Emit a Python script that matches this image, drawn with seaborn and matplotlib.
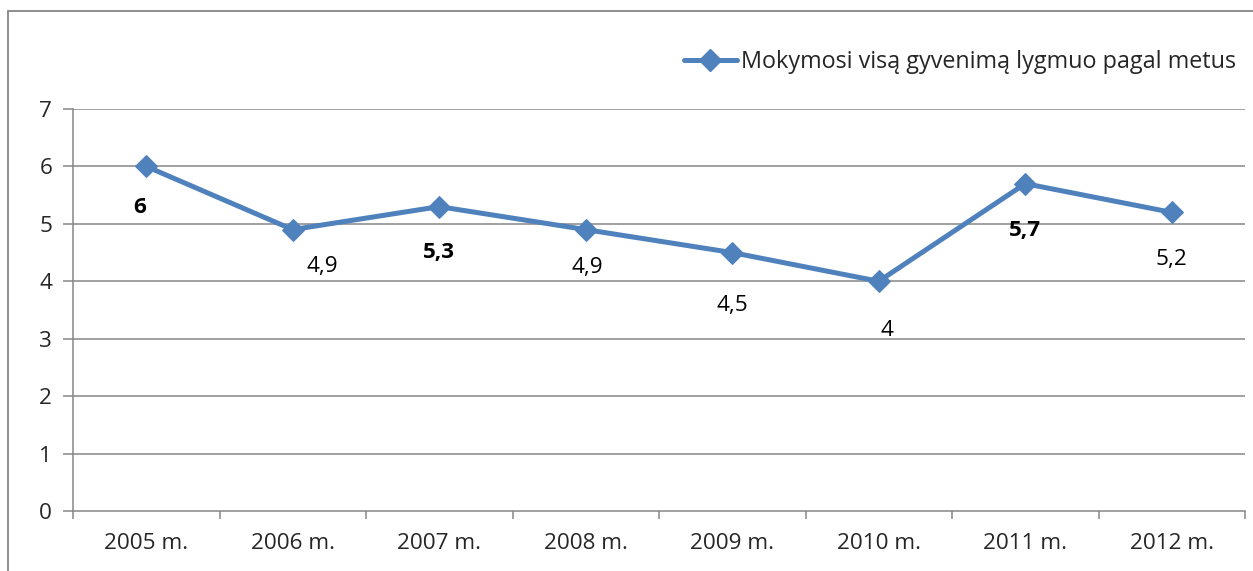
import matplotlib
matplotlib.use("Agg")
import matplotlib.pyplot as plt
import seaborn as sns
import pandas as pd
from matplotlib.patches import Rectangle
from matplotlib.lines import Line2D

years = ["2005 m.", "2006 m.", "2007 m.", "2008 m.", "2009 m.", "2010 m.", "2011 m.", "2012 m."]
values = [6, 4.9, 5.3, 4.9, 4.5, 4, 5.7, 5.2]
value_labels = ["6", "4,9", "5,3", "4,9", "4,5", "4", "5,7", "5,2"]
bold_labels = [True, False, True, False, False, False, True, False]
series_name = "Mokymosi visą gyvenimą lygmuo pagal metus"
yticks = [0, 1, 2, 3, 4, 5, 6, 7]

# label offsets in pixels (dx, dy) relative to point
label_offsets = [(-7, -41), (30, -37), (0, -46), (2, -38), (0, -53), (8, -49), (0, -47), (0, -47)]

sns.set_theme(style="white")
plt.rcParams['font.family'] = ['Open Sans', 'DejaVu Sans']

W, H = 1253, 571
fig = plt.figure(figsize=(W / 100, H / 100), dpi=100)
ax = fig.add_axes([73 / W, 1 - 511 / H, (1245 - 73) / W, (511 - 109) / H])

color = "#4F81BD"
grid_c = "#868686"
fs = 16.2
df = pd.DataFrame({"x": list(range(len(years))), "y": values})
sns.lineplot(data=df, x="x", y="y", ax=ax, color=color, linewidth=3.6,
             marker="D", markersize=11, markeredgecolor=color, legend=False)

ax.set_xlim(-0.5, len(years) - 0.5)
ax.set_ylim(0, 7)
ax.set_yticks(yticks)
ax.set_yticklabels([str(t) for t in yticks], fontsize=fs)
for t in yticks[1:]:
    ax.axhline(t, color=grid_c, linewidth=1.1, zorder=0)
ax.set_xticks(range(len(years)))
ax.set_xticklabels(years, fontsize=fs)
ax.set_xticks([i - 0.5 for i in range(len(years) + 1)], minor=True)
ax.tick_params(axis="x", which="major", length=0, pad=16)
ax.tick_params(axis="x", which="minor", length=6, color=grid_c, width=1.1, direction="out", bottom=True)
ax.tick_params(axis="y", length=7, color=grid_c, width=1.1, direction="out", left=True, pad=8)
ax.set_xlabel("")
ax.set_ylabel("")
for s in ["top", "right"]:
    ax.spines[s].set_visible(False)
for s in ["left", "bottom"]:
    ax.spines[s].set_color(grid_c)
    ax.spines[s].set_linewidth(1.1)

for i, (v, lab, b) in enumerate(zip(values, value_labels, bold_labels)):
    dx, dy = label_offsets[i]
    ax.annotate(lab, (i, v), xytext=(dx * 0.72, dy * 0.72), textcoords="offset points",
                ha="center", va="center", fontsize=fs,
                fontweight="bold" if b else "normal", color="black")

handle = Line2D([], [], color=color, linewidth=3.6, marker="D", markersize=11)
fig.legend([handle], [series_name], loc="center right", bbox_to_anchor=(1245 / W, 1 - 62 / H),
           frameon=False, fontsize=16.8, handlelength=2.3, handletextpad=0.15, borderaxespad=0)

fig.patches.append(Rectangle((8 / W, -0.05), 1.1, 1 - 11 / H + 0.05, transform=fig.transFigure,
                             fill=False, edgecolor=grid_c, linewidth=1.3))

fig.savefig("out.png", dpi=100)
